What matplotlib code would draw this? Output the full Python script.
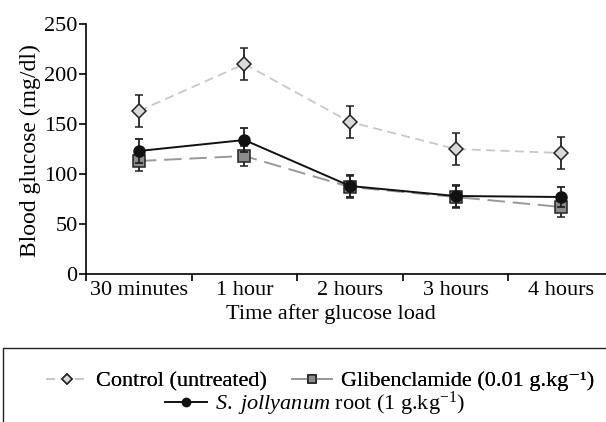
import matplotlib.pyplot as plt
from matplotlib.patches import Rectangle

plt.rcParams["font.family"] = ["Liberation Serif", "DejaVu Serif"]
plt.rcParams["mathtext.fontset"] = "custom"
plt.rcParams["mathtext.rm"] = "Liberation Serif"
plt.rcParams["mathtext.it"] = "Liberation Serif:italic"

time_labels = ["30 minutes", "1 hour", "2 hours", "3 hours", "4 hours"]
control = [163, 210, 152, 125, 121]
control_err = [16, 16, 16, 16, 16]
glib = [113, 118, 87, 77, 67]
glib_err = [10, 10, 11, 11, 10]
jolly = [123, 134, 88, 78, 77]
jolly_err = [12, 12, 11, 11, 10]

W, H = 606, 422
fig = plt.figure(figsize=(W / 100, H / 100), dpi=100)
ax = fig.add_axes([86 / W, (H - 274) / H, (614 - 86) / W, (274 - 24) / H])

x = list(range(len(time_labels)))
err_kw = dict(ecolor="#222222", elinewidth=1.3, capsize=3, capthick=1.3)
ax.errorbar(x, control, yerr=control_err, color="#c8c8c8", ls=(0, (5, 3)), lw=1.3,
            marker="D", ms=7, mfc="#d9d9d9", mec="#222222", mew=1.1,
            label="Control (untreated)", zorder=3, **err_kw)
ax.errorbar(x, glib, yerr=glib_err, color="#999999", ls=(0, (9, 4)), lw=1.4,
            marker="s", ms=8, mfc="#8c8c8c", mec="#222222", mew=1.1,
            label="Glibenclamide (0.01 g.kg\u207b\u00b9)", zorder=4, **err_kw)
ax.errorbar(x, jolly, yerr=jolly_err, color="#111111", ls="-", lw=1.4,
            marker="o", ms=8, mfc="#111111", mec="#111111",
            label=r"$\mathit{S.\ jollyanum}$ root (1 g.kg$^{-1}$)", zorder=5, **err_kw)

ax.set_xlim(-0.5, 4.5)
ax.set_ylim(0, 250)
ax.set_yticks([0, 50, 100, 150, 200, 250])
ax.set_xticks([i - 0.5 for i in range(6)])
ax.set_xticklabels([])
ax.set_xticks(x, minor=True)
ax.set_xticklabels(time_labels, minor=True)
ax.tick_params(axis="x", which="minor", length=0, pad=5, labelsize=16)
ax.tick_params(axis="both", which="major", direction="out", length=5, width=1.2, labelsize=16)
ax.tick_params(axis="y", pad=1)
for side in ("top", "right"):
    ax.spines[side].set_visible(False)
for side in ("left", "bottom"):
    ax.spines[side].set_linewidth(1.2)

fig.text(30 / W, 1 - 151 / H, "Blood glucose (mg/dl)", rotation=90,
         ha="center", va="center", fontsize=17)
fig.text(331 / W, 1 - 314 / H, "Time after glucose load", ha="center", va="center", fontsize=16)

handles, labels = ax.get_legend_handles_labels()
handles = [h[0] for h in handles]
leg_kw = dict(loc="center", frameon=False, fontsize=16, markerscale=0.75,
              handlelength=1.9, handletextpad=0.35)
leg1 = fig.legend(handles[:2], labels[:2], ncol=2, columnspacing=1.1,
                  bbox_to_anchor=(320 / W, 1 - 381 / H), **leg_kw)
fig.add_artist(leg1)
fig.legend(handles[2:], labels[2:], bbox_to_anchor=(315 / W, 1 - 404 / H), **leg_kw)

fig.add_artist(Rectangle((3 / W, -20 / H), 700 / W, (H - 348 + 20) / H,
                         transform=fig.transFigure, fill=False, lw=1.0,
                         ec="#222222", clip_on=False))

fig.savefig("out.png", dpi=100)
